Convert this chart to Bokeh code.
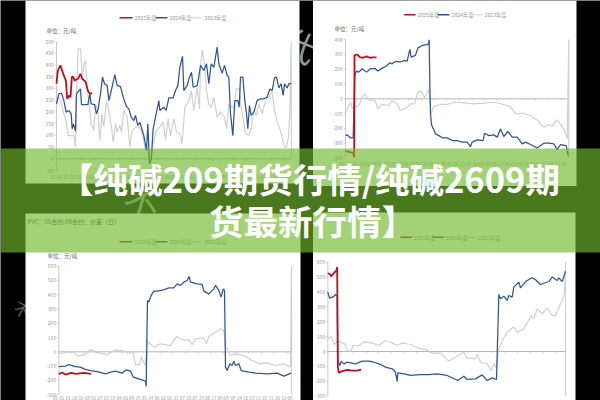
from bokeh.plotting import figure
from bokeh.models import Range1d
from bokeh.core.properties import value
from bokeh.embed import file_html
from bokeh.resources import INLINE

# ---------- data: spreads in yuan/ton, x = trading-day position ----------
tl_red_x = [0,2,6,10,14,16,19,21,23,25,27,32,36,38.5,43.5,47,50,53.5]
tl_red_y = [320,376,398,362,334,256,270,263,348,351,334,341,362,341,329,291,277,280]
tl_blue_x = [0,3.5,7.5,11,14.5,18.5,22,23.5,25.5,28.5,30,36,37.5,47,50,52,57,60,62.5,66,69,72,76,78.5,81,84.5,87.5,91,96,100,105,108.5,112,116,118.5,122,125,131,135,137,139.5,142,145,148.5,153.5,155,161,164.5,168.5,175,178.5,182,185,189,191,196,199.5,202.5,205,211,213.5,216,221,225,228.5,232,236,241,243.5,248.5,252,256,258.5,261,264.5,267.5,272,274,276,279.5,282.5,285,287,289.5,292,296,301,306,311,316,320,323.5,327,330,333.5,337,340,342,346,348.5,352]
tl_blue_y = [234,277,280,248,199,206,192,128,149,118,277,298,231,231,277,234,231,192,213,277,348,320,312,248,277,320,359,312,308,263,223,213,178,163,185,142,156,99,36,149,-21,-7,128,178,248,206,220,206,260,260,291,312,390,437,291,312,348,369,305,312,351,398,376,405,320,405,390,476,405,365,398,355,348,192,99,248,248,220,348,348,248,192,128,227,185,199,248,256,256,263,298,291,345,348,302,320,270,320,302,320,320]
tl_grey_x = [0,2,6,11,14.5,17.5,26,28.5,30,32.5,36,39,41,43.5,46,50,52,56,58.5,62,65,68,71,75,78.5,82.5,85,88.5,91,95,97.5,101,106,110,113.5,118.5,125,128.5,133.5,136,138.5,142,145,150,155,160,163.5,167.5,171,176,180,185,188.5,192.5,198.5,202,206,211,214.5,216,218.5,222,225,228.5,232,236,241,246,252,255,258.5,262,266,270,275,277,279.5,283.5,288.5,292,296,300,303.5,308.5,313.5,318.5,323.5,327,331,335,338.5,342,345,348,350,352,352.5]
tl_grey_y = [227,263,248,192,163,99,99,50,277,469,469,348,398,419,305,206,149,121,234,206,78,192,135,248,206,135,71,149,114,142,114,206,178,50,121,135,135,107,36,50,-7,7,64,121,135,156,81,170,99,170,114,107,64,220,248,291,206,305,213,390,466,405,291,234,220,263,178,199,178,128,234,220,220,298,298,220,178,107,99,128,206,185,234,192,248,263,284,206,156,128,92,50,50,92,199,500,0]

tr_red_x = [0,7.5,11.5,13,13.5,17.5,21.5,26.5,31.5,36.5,41.5,46.5]
tr_red_y = [-353,-360,-367,-394,293,299,281,277,286,277,279,279]
tr_blue_x = [0,2.5,7.5,11.5,14,16.5,20,25,31.5,37.5,45,48.5,55,61.5,66.5,70,75,82.5,88.5,92.5,96.5,98.5,105,108.5,115,124,125.5,126.5,127.5,129,135,140,145,152.5,160,167.5,175,182.5,187.5,190,197.5,206.5,208.5,215,222.5,227.5,232.5,237.5,243.5,250,257.5,265,270,277.5,287.5,297.5,305,312.5,317.5,322.5,331,334]
tr_blue_y = [-248,-243,-263,-263,158,187,180,203,180,203,203,187,207,221,243,236,252,248,259,254,333,281,293,342,360,367,398,101,-101,-175,-236,-248,-263,-263,-281,-281,-292,-292,-322,-292,-277,-281,-232,-248,-243,-259,-203,-254,-220,-259,-259,-304,-292,-308,-331,-299,-299,-304,-342,-308,-315,-383]
tr_grey_x = [0,2.5,7.5,10,20,25,28.5,35,45,48.5,55,65,70,77.5,82.5,91.5,97.5,103.5,108.5,113.5,118.5,125,128,132.5,142.5,152.5,162.5,177.5,192.5,207.5,222.5,237.5,247.5,255,267.5,277.5,287.5,297.5,305,310,316.5,322.5,327.5,332.5,335,335]
tr_grey_y = [-90,-68,-23,-61,-45,11,34,-5,-16,-68,-38,-45,-11,-34,-79,-61,-34,-34,45,52,7,68,-101,-52,-38,-38,-23,-27,-34,-29,-23,-38,-52,-101,-97,-113,-142,-191,-173,-187,-142,-169,-203,-270,400,-400]

bl_red_x = [0,5,10,18.5,25,37.5,48.5]
bl_red_y = [-156,-145,-159,-147,-154,-147,-154]
bl_blue_x = [0,10,15,25,32.5,37.5,47.5,57.5,70,77.5,85,95,101.5,107.5,111.5,120,130,131,133,135,138.5,142.5,147.5,157.5,165,172.5,177.5,182.5,187.5,192.5,195.5,197.5,207.5,215,217.5,225,232.5,235,240,243.5,246.5,248.5,250,252.5,256.5,260,262.5,265,270,273.5,285,295,312.5,327.5,337.5,348.5]
bl_blue_y = [-103,-100,-89,-103,-107,-119,-131,-138,-154,-142,-135,-149,-126,-135,-177,-189,-205,-243,360,348,395,425,425,434,448,448,476,465,488,500,528,488,476,472,425,406,441,465,430,383,441,430,-107,-131,-84,-96,-65,-96,-84,-131,-142,-149,-154,-149,-170,-149]
bl_grey_x = [0,10,20,28.5,40,47.5,55,72.5,85,95,105,111.5,115,121.5,123.5,130,132.5,136.5,142.5,152.5,167.5,176.5,187.5,195,200,205,217.5,221.5,225,235,242.5,247.5,250,252.5,257.5,265,277.5,290,300,312.5,325,337.5,347.5,349,349]
bl_grey_y = [-14,-5,2,-30,-19,16,-2,-19,14,9,-9,-5,-89,-89,-37,-96,79,56,33,56,44,107,79,86,51,91,98,56,107,138,161,149,33,21,-26,-14,-26,-61,-84,-77,-96,-84,-107,600,-300]

br_red_x = [0,4,5,9,13,14,15,16.5,21.5,29,36.5,44,50]
br_red_y = [526,517,504,526,544,567,-105,-143,-132,-123,-128,-128,-121]
br_blue_x = [0,2.5,9,11.5,14,15,18,20,24,29,36.5,41.5,51.5,61.5,69,79,86.5,96.5,101.5,104,105,114,124,139,151.5,164,179,195,204,209,221.5,231.5,239,246.5,253,256.5,259,264,269,271.5,276.5,279,286.5,289,296.5,306.5,311.5,319,331.5,336.5,344,346.5,351.5,356.5]
br_blue_y = [399,358,370,383,372,-60,-94,-67,-83,-72,-78,-83,-65,-65,-72,-87,-105,-116,-139,-202,-143,-150,-161,-155,-155,-150,-161,-195,-166,-188,-184,-157,-195,-177,-188,383,354,372,343,376,365,432,466,428,470,495,482,450,470,500,477,495,470,538]
br_grey_x = [0,5,10,14,19,25,30,34,38,46.5,54,67.5,76.5,86.5,96.5,104,111.5,124,139,149,156.5,169,181.5,191.5,204,209,221.5,224,229,239,245,249,252.5,256.5,264,269,279,284,294,305,309,314,321.5,329,336.5,341.5,349,355,356.5,356.5]
br_grey_y = [85,101,47,69,63,52,7,0,40,40,63,56,40,74,58,40,56,47,18,11,-11,-11,-65,-38,-4,-45,-49,-16,-72,-83,-128,-83,-105,18,92,130,164,130,152,242,220,287,253,293,242,242,320,388,600,-300]

tl_yticks = [-50,0,50,100,150,200,250,300,350,400,450,500]
tr_yticks = [-400,-300,-200,-100,0,100,200,300,400]
bl_yticks = [-300,-200,-100,0,100,200,300,400,500,600]
br_yticks = [-300,-200,-100,0,100,200,300,400,500,600]
xtick_labels = ["01-01","01-20","02-08","02-27","03-18","04-06","04-25","05-14","06-02","06-21","07-10","07-29","08-17","09-05","09-24","10-13","11-01","11-20","12-09"]
series_names = ["2025年度","2024年度","2023年度"]
unit_label = "单位：元/吨"
bl_title = "PVC：05合约-09合约：价差（日）"
banner_line1 = "【纯碱209期货行情/纯碱2609期"
banner_line2 = "货最新行情】"

RED, BLUE, GREY = "#c00f1a", "#2f5597", "#d0d0d0"
AX, TXT = "#b5b5b5", "#9a9a9a"
FONT = value("Noto Sans CJK SC")

# ---------- page geometry in image pixels ----------
W, H = 600, 400
p = figure(width=W, height=H, output_backend="svg", toolbar_location=None,
           x_range=Range1d(0, W), y_range=Range1d(H, 0),
           x_axis_location=None, y_axis_location=None, min_border=0,
           background_fill_color="black", border_fill_color="black", outline_line_color=None)
p.grid.visible = False

# fragments of the background watermark, covered by the panels
p.text(x=[300], y=[44], text=["代"], text_color="#d8d8d8", text_alpha=0.7, text_font=FONT,
       text_font_size="34px", text_align="center", text_baseline="middle", angle=[-0.5])
p.text(x=[22], y=[309], text=["不"], text_color="#d8d8d8", text_alpha=0.45, text_font=FONT,
       text_font_size="16px", text_align="center", text_baseline="middle", angle=[-0.5])
p.text(x=[142], y=[200], text=["不"], text_color="#e8e8e8", text_alpha=0.6, text_font=FONT,
       text_font_size="36px", text_align="center", text_baseline="middle", angle=[-0.3])

# white chart panels
p.quad(left=[25, 312.5, 25, 312.5], right=[299, 576, 300, 575], top=[0, 0, 213, 212], bottom=[183, 185.5, 400, 400],
       fill_color="white", line_color=None)


def panel(name, x0, y_top, v_top, y_zero, yticks, xlab_y, red, blue, grey, legend, unit=None):
    sx = 2 / 3
    sy = (y_zero - y_top) / v_top
    p.extra_x_ranges[name] = Range1d(-x0 / sx, (W - x0) / sx)
    p.extra_y_ranges[name] = Range1d((y_zero - H) / sy, y_zero / sy)
    kw = dict(x_range_name=name, y_range_name=name)
    ymin, ymax = min(yticks), max(yticks)
    xmax = max(blue[0] + grey[0])
    xt = [i * 19 for i in range(len(xtick_labels)) if i * 19 <= xmax]
    # axes
    p.segment(x0=[0], x1=[0], y0=[ymin], y1=[ymax], line_color=AX, line_width=0.7, **kw)
    p.segment(x0=[0], x1=[xmax], y0=[0], y1=[0], line_color=AX, line_width=1.0, **kw)
    p.segment(x0=[-2.5] * len(yticks), x1=[0] * len(yticks), y0=yticks, y1=yticks, line_color=AX, line_width=0.6, **kw)
    p.segment(x0=xt, x1=xt, y0=[0] * len(xt), y1=[-1.6 / sy] * len(xt), line_color=AX, line_width=0.6, **kw)
    p.text(x=[-4] * len(yticks), y=yticks, text=[str(t) for t in yticks], text_align="right", text_baseline="middle",
           text_color=TXT, text_font=FONT, text_font_size="5px", **kw)
    if xlab_y is not None:
        p.text(x=xt, y=[ymin - xlab_y / sy] * len(xt), text=xtick_labels[:len(xt)], text_align="center",
               text_baseline="middle", text_color=TXT, text_font=FONT, text_font_size="4.5px", **kw)
    # series
    p.line(grey[0], grey[1], line_color=GREY, line_width=1.2, **kw)
    p.line(blue[0], blue[1], line_color=BLUE, line_width=1.25, **kw)
    p.line(red[0], red[1], line_color=RED, line_width=1.8, **kw)
    # legend
    ly, xs = legend
    for (a, b, t), c, w, n in zip(xs, (RED, BLUE, GREY), (1.5, 1.5, 1.0), series_names):
        p.segment(x0=[a], x1=[b], y0=[ly], y1=[ly], line_color=c, line_width=w)
        p.text(x=[t], y=[ly], text=[n], text_align="left", text_baseline="middle", text_color=TXT,
               text_font=FONT, text_font_size="5.2px")
    if unit:
        p.text(x=[unit[0]], y=[unit[1]], text=[unit_label], text_align="left", text_baseline="middle",
               text_color="#666666", text_font=FONT, text_font_size="5.5px")


panel("tl", 56, 41, 500, 158.33, tl_yticks, 6, (tl_red_x, tl_red_y), (tl_blue_x, tl_blue_y), (tl_grey_x, tl_grey_y),
      (17.3, [(119, 132, 134), (155, 167, 169), (189, 201, 204)]), (46, 30.7))
panel("tr", 345, 39, 400, 98.33, tr_yticks, 6, (tr_red_x, tr_red_y), (tr_blue_x, tr_blue_y), (tr_grey_x, tr_grey_y),
      (14.3, [(403.7, 415, 417), (437, 449, 451), (470, 482, 484)]), (334, 28.3))
panel("bl", 58.33, 265.67, 600, 351.33, bl_yticks, 3.2, (bl_red_x, bl_red_y), (bl_blue_x, bl_blue_y), (bl_grey_x, bl_grey_y),
      (241.3, [(119, 132, 134), (155, 167, 169), (189, 201, 204)]), (47, 255))
panel("br", 327.33, 261.67, 600, 351, br_yticks, None, (br_red_x, br_red_y), (br_blue_x, br_blue_y), (br_grey_x, br_grey_y),
      (236.7, [(400, 411.7, 413), (432, 444, 445), (465, 476, 478)]))

p.text(x=[27], y=[221], text=[bl_title], text_align="left", text_baseline="middle", text_color="#555555",
       text_font=FONT, text_font_size="6px")

# translucent green banner with headline
p.quad(left=[0], right=[W], top=[148], bottom=[252], fill_color="#72b92b", fill_alpha=0.65, line_color=None)
p.text(x=[309, 312], y=[177, 219], text=[banner_line1, banner_line2], text_align="center", text_baseline="middle",
       text_color="white", text_font=FONT, text_font_style="bold", text_font_size="34.5px")

open("out.html", "w").write(file_html(p, INLINE))
